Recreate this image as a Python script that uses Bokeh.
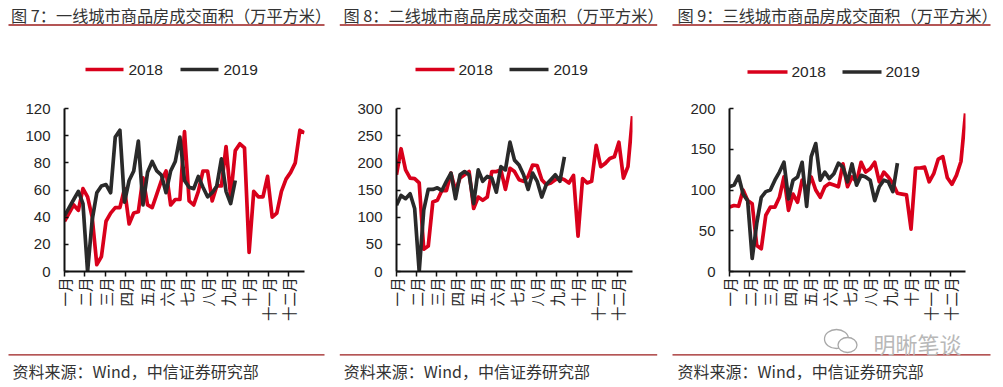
import math
from bokeh.plotting import figure
from bokeh.layouts import column, row
from bokeh.models import Range1d, FixedTicker
from bokeh.core.properties import value
from bokeh.embed import file_html
from bokeh.resources import INLINE

# ---------------- data ----------------
month_labels = ["一月", "二月", "三月", "四月", "五月", "六月",
                "七月", "八月", "九月", "十月", "十一月", "十二月"]
month_ticks = [0, 4.4, 8.8, 13.3, 17.7, 22.1, 26.5, 30.9, 35.3, 39.8, 44.2, 48.6]
series_names = ["2018", "2019"]

weeks_2018 = list(range(53))
weeks_2019 = list(range(38))

tier1_2018 = [37, 43, 49, 45, 61, 55, 40, 5, 11, 37, 43, 47, 47, 61, 35, 43, 44, 69, 49, 47,
              57, 67, 74, 49, 53, 53, 103, 52, 49, 59, 74, 74, 52, 63, 63, 92, 55, 89, 94, 91,
              14, 59, 55, 55, 70, 40, 43, 59, 68, 73, 80, 104, 102]
tier1_2019 = [41, 47, 53, 59, 50, 0, 38, 58, 63, 64, 58, 99, 104, 51, 67, 74, 96, 49, 73, 81,
              74, 71, 58, 74, 81, 99, 67, 62, 61, 70, 62, 55, 58, 63, 83, 59, 50, 67]

tier2_2018 = [178, 226, 187, 172, 171, 163, 41, 47, 128, 131, 149, 149, 181, 149, 172, 178, 184,
              116, 137, 131, 137, 184, 184, 187, 151, 190, 184, 169, 166, 175, 196, 195, 169, 160,
              163, 169, 172, 169, 163, 177, 65, 171, 163, 166, 232, 193, 199, 208, 211, 238, 172,
              193, 286]
tier2_2019 = [122, 140, 134, 143, 116, 0, 113, 151, 151, 154, 149, 166, 181, 134, 178, 184, 178,
              125, 187, 166, 175, 172, 146, 193, 187, 238, 205, 196, 178, 151, 181, 166, 137, 160,
              169, 178, 166, 211]

tier3_2018 = [79, 81, 80, 100, 87, 83, 32, 28, 69, 79, 79, 91, 116, 75, 95, 85, 112, 100, 116, 100,
              91, 104, 108, 106, 104, 132, 104, 116, 110, 134, 122, 126, 134, 110, 122, 116, 108,
              96, 95, 94, 52, 127, 127, 128, 110, 120, 138, 141, 115, 107, 118, 135, 194]
tier3_2019 = [104, 106, 117, 95, 87, 16, 59, 91, 98, 100, 112, 122, 134, 89, 112, 116, 134, 80,
              141, 157, 112, 122, 114, 120, 133, 128, 110, 132, 106, 118, 116, 112, 87, 104, 112,
              110, 98, 133]

y_max = [120, 300, 200]
y_ticks_1 = [0, 20, 40, 60, 80, 100, 120]
y_ticks_2 = [0, 50, 100, 150, 200, 250, 300]
y_ticks_3 = [0, 50, 100, 150, 200]

titles = ["图 7：一线城市商品房成交面积（万平方米）",
          "图 8：二线城市商品房成交面积（万平方米）",
          "图 9：三线城市商品房成交面积（万平方米）"]
source_text = "资料来源：Wind，中信证券研究部"
watermark_text = "明晰笔谈"

# ---------------- styles ----------------
RED = "#d9001b"
BLACK = "#2a2a2a"
RULE = "#9b1c1c"
TEXT = "#262626"
CJK = "Noto Sans CJK SC"
LATIN = "Liberation Sans"
TOTAL_W = 1003


def make_panel(width, height, bl, br, bt, bb, ymax, yticks, red, black):
    p = figure(width=width, height=height,
               x_range=Range1d(0, 52), y_range=Range1d(0, ymax),
               output_backend="svg", toolbar_location=None,
               min_border_left=bl, min_border_right=br,
               min_border_top=bt, min_border_bottom=bb)
    p.grid.visible = False
    p.outline_line_color = None
    p.background_fill_color = "white"
    p.border_fill_color = "white"

    p.line(weeks_2018, red, line_color=RED, line_width=3.7, line_join="round")
    p.line(weeks_2019, black, line_color=BLACK, line_width=3.7, line_join="round")

    xa = p.xaxis[0]
    xa.ticker = FixedTicker(ticks=month_ticks)
    xa.major_label_overrides = {t: lab for t, lab in zip(month_ticks, month_labels)}
    xa.major_label_orientation = math.pi / 2
    xa.major_label_text_font = CJK
    xa.major_label_text_font_size = "14.5px"
    xa.major_label_text_color = TEXT
    xa.major_tick_in = 0
    xa.major_tick_out = 5
    xa.minor_tick_in = 0
    xa.minor_tick_out = 0
    xa.major_label_standoff = 1
    xa.axis_line_width = 2
    xa.axis_line_color = "#111111"
    xa.major_tick_line_color = "#111111"
    xa.major_tick_line_width = 1.5

    ya = p.yaxis[0]
    ya.ticker = FixedTicker(ticks=yticks)
    ya.major_label_text_font = LATIN
    ya.major_label_text_font_size = "15px"
    ya.major_label_text_color = TEXT
    ya.major_tick_in = 4
    ya.major_tick_out = 0
    ya.minor_tick_in = 0
    ya.minor_tick_out = 0
    ya.major_label_standoff = 14
    ya.axis_line_width = 2
    ya.axis_line_color = "#111111"
    ya.major_tick_line_color = "#111111"
    ya.major_tick_line_width = 1.5
    return p


# chart row spans page y 85..326
p1 = make_panel(338, 241, 64, 34, 20, 54, y_max[0], y_ticks_1, tier1_2018, tier1_2019)
p2 = make_panel(330, 241, 58, 36, 21, 53, y_max[1], y_ticks_2, tier2_2018, tier2_2019)
p3 = make_panel(335, 241, 61, 38, 23, 55, y_max[2], y_ticks_3, tier3_2018, tier3_2019)


def blank(height):
    f = figure(width=TOTAL_W, height=height, x_range=Range1d(0, TOTAL_W),
               y_range=Range1d(height, 0), output_backend="svg", toolbar_location=None,
               min_border=0)
    f.axis.visible = False
    f.grid.visible = False
    f.outline_line_color = None
    f.background_fill_color = "white"
    f.border_fill_color = "white"
    return f


# header: titles, rules and legends (page coordinates, y downward)
header = blank(85)
header.text(x=[10.5, 343, 677], y=[14.5] * 3, text=titles,
            text_font=value(CJK), text_font_size="16.2px", text_color="#333333",
            text_baseline="middle", text_align="left")
header.segment(x0=[8, 339.3, 672], y0=[24.5] * 3, x1=[324, 656.7, 990], y1=[24.5] * 3,
               line_color=RULE, line_width=1.3)

# legend keys: (line start, line end, label x, centre y) for each panel
leg_red = [(85, 123, 128, 69), (415, 454, 458, 69), (747, 787, 791, 71.5)]
leg_blk = [(180, 218, 223, 69), (509, 548, 553, 69), (842, 881, 885, 71.5)]
for (a, b, tx, cy), colr, name in ([(k, RED, series_names[0]) for k in leg_red] +
                                   [(k, BLACK, series_names[1]) for k in leg_blk]):
    header.segment(x0=[a], y0=[cy], x1=[b], y1=[cy], line_color=colr, line_width=3.3)
    header.text(x=[tx], y=[cy], text=[name], text_font=value(LATIN),
                text_font_size="15.5px", text_color=TEXT,
                text_baseline="middle", text_align="left")

# footer: rules, sources and watermark (page y = 326 + y)
footer = blank(61)
footer.segment(x0=[8, 339.3, 672], y0=[28.3] * 3, x1=[324, 656.7, 990], y1=[28.3] * 3,
               line_color=RULE, line_width=1.3)
footer.text(x=[12, 343.3, 677], y=[44] * 3, text=[source_text] * 3,
            text_font=value(CJK), text_font_size="16px", text_color="#333333",
            text_baseline="middle", text_align="left")
footer.ellipse(x=[836], y=[12.5], width=[24], height=[19], fill_color="white",
               line_color="#a8a8a8", line_width=1.3)
footer.ellipse(x=[847], y=[18.5], width=[19], height=[15], fill_color="white",
               line_color="#a8a8a8", line_width=1.3)
footer.text(x=[873], y=[16.5], text=[watermark_text], text_font=value(CJK),
            text_font_size="22px", text_color="#b8b8b8",
            text_baseline="middle", text_align="left")

layout = column(header, row(p1, p2, p3), footer)

with open("out.html", "w") as f:
    f.write(file_html(layout, INLINE))
